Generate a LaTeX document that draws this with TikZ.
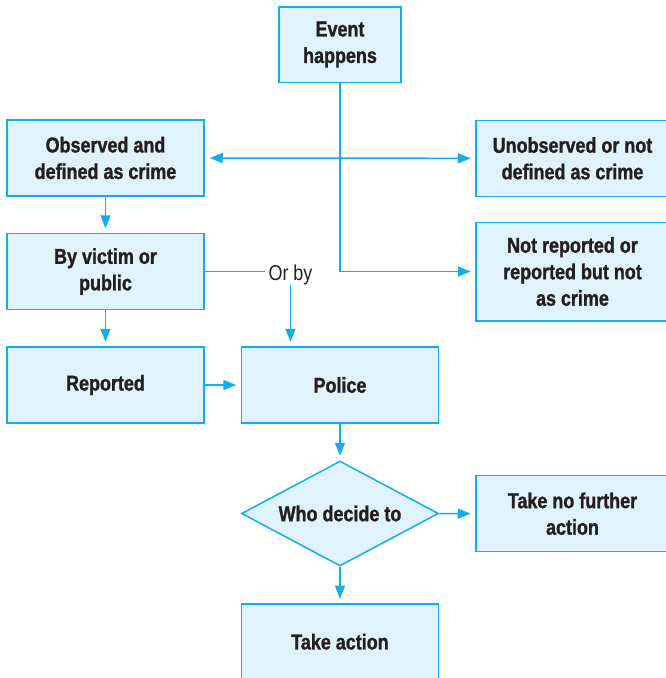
\documentclass[tikz,border=0pt]{standalone}
\usepackage{fontspec}
\setmainfont{Liberation Sans}[FakeStretch=0.835, BoldFeatures={FakeBold=1.2}]
\usetikzlibrary{shapes.geometric,arrows.meta}
\definecolor{lineblue}{HTML}{12AEEC}
\definecolor{boxfill}{HTML}{E0F2FB}
\definecolor{textdark}{HTML}{231F20}
\tikzset{
  box/.style={draw=lineblue, fill=boxfill, line width=1.5pt, inner sep=0pt,
    minimum width=197pt, minimum height=76pt, align=center, text=textdark,
    font=\fontsize{21.5}{26.5}\selectfont\bfseries},
  decision/.style={box, diamond, aspect=1.876, minimum width=197pt, minimum height=105pt},
  conn/.style={draw=lineblue, line width=1.5pt},
  arr/.style={conn, -{Triangle[length=13pt,width=10pt]}, shorten >=4.5pt},
  darr/.style={conn, {Triangle[length=13pt,width=10pt]}-{Triangle[length=13pt,width=10pt]}, shorten >=4.5pt, shorten <=5pt},
  plainlabel/.style={text=textdark, font=\fontsize{21.5}{26.5}\selectfont, inner xsep=3.5pt, inner ysep=0.5pt}
}
\begin{document}
\begin{tikzpicture}[x=1pt,y=-1pt]
\useasboundingbox (0,0) rectangle (666,678);
\clip (0,0) rectangle (666,678);
\node[box, minimum width=122pt, minimum height=75.5pt] (event) at (340,44.5) {Event\\happens};
\node[box] (observed) at (105.5,158) {Observed and\\defined as crime};
\node[box] (byvictim) at (105.5,271.5) {By victim or\\public};
\node[box] (reported) at (105.5,385) {Reported};
\node[box] (police) at (340,385) {Police};
\node[box, minimum width=193pt] (unobserved) at (572.5,158.3) {Unobserved or not\\defined as crime};
\node[box, minimum width=193pt, minimum height=98.5pt] (notrep) at (572.5,271.5) {Not reported or\\reported but not\\as crime};
\node[decision] (decide) at (340,513.5) {Who decide to};
\node[box, minimum width=193pt] (nofurther) at (572.5,513.7) {Take no further\\action};
\node[box, minimum height=75.5pt] (action) at (340,641.7) {Take action};
\node[plainlabel, anchor=base] (orby) at (290.5,280) {Or by};
% connectors
\draw[arr] (event.south) -- (event.south |- notrep.west) -- (notrep.west);
\draw[darr] (observed.east) -- (unobserved.west);
\draw[arr] (observed.south) -- (byvictim.north);
\draw[arr] (byvictim.south) -- (reported.north);
\draw[conn] (byvictim.east) -- (byvictim.east -| orby.west);
\draw[arr] (orby.south) -- (orby.south |- police.north);
\draw[arr] (reported.east) -- (police.west);
\draw[arr] (police.south) -- (decide.north);
\draw[arr] (decide.east) -- (nofurther.west);
\draw[arr] (decide.south) -- (action.north);
\end{tikzpicture}
\end{document}
